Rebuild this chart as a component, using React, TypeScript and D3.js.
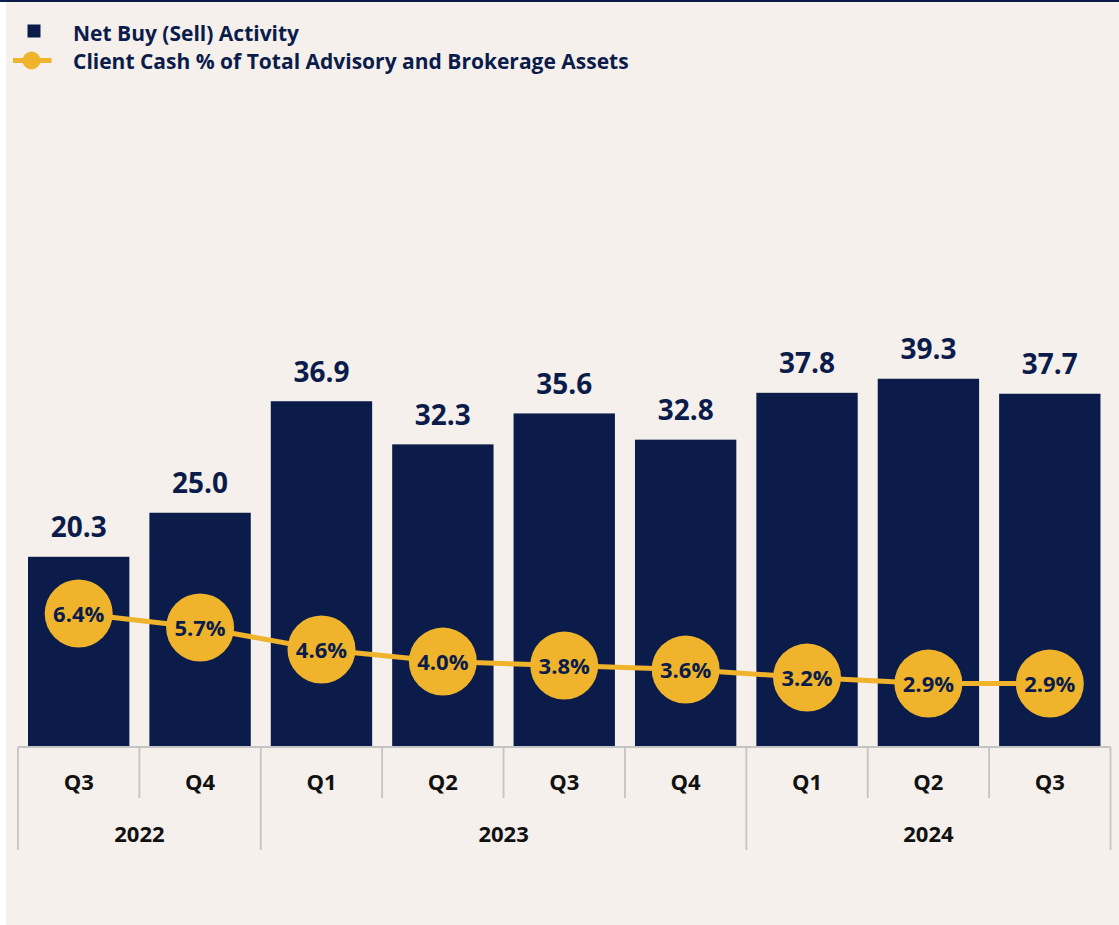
import React from "react";
import * as d3 from "d3";

const quarters = ["Q3", "Q4", "Q1", "Q2", "Q3", "Q4", "Q1", "Q2", "Q3"];
const years = ["2022", "2022", "2023", "2023", "2023", "2023", "2024", "2024", "2024"];
const netBuy = [20.3, 25.0, 36.9, 32.3, 35.6, 32.8, 37.8, 39.3, 37.7];
const cashPct = [6.4, 5.7, 4.6, 4.0, 3.8, 3.6, 3.2, 2.9, 2.9];
const legendLabels = ["Net Buy (Sell) Activity", "Client Cash % of Total Advisory and Brokerage Assets"];

const W = 1119;
const H = 925;
const NAVY = "#0b1c4b";
const GOLD = "#efb42b";
const BG = "#f5f0eb";
const FONT = "'Open Sans', sans-serif";

export default function App() {
  const idx = quarters.map((_, i) => String(i));
  const x = d3.scaleBand<string>().domain(idx).range([18, 1110.5]).paddingInner(0.165).paddingOuter(0.0825);
  const bandStep = x.step();
  const y = d3.scaleLinear().domain([0, 40]).range([747, 372.2]);
  const y2 = d3.scaleLinear().domain([0, 6.4]).range([741.6, 613.5]);

  const cx = (i: number) => (x(String(i)) as number) + x.bandwidth() / 2;
  const line = d3
    .line<number>()
    .x((_, i) => cx(i))
    .y((d) => y2(d));

  const groups: { year: string; start: number; end: number }[] = [];
  years.forEach((yr, i) => {
    const g = groups[groups.length - 1];
    if (g && g.year === yr) g.end = i;
    else groups.push({ year: yr, start: i, end: i });
  });
  const left0 = 18;
  const edge = (i: number) => left0 + i * bandStep;

  return (
    <svg width={W} height={H} style={{ display: "block", position: "absolute", left: 0, top: 0 }}>
      <rect x={0} y={0} width={W} height={H} fill="#ffffff" />
      <rect x={6} y={0} width={W - 6} height={H} fill={BG} />
      <rect x={0} y={0} width={W} height={2} fill={NAVY} />

      {/* legend */}
      <rect x={27.5} y={24.5} width={13} height={13} fill={NAVY} />
      <text x={73} y={41} fontFamily={FONT} fontWeight={700} fontSize={21} fill={NAVY}>
        {legendLabels[0]}
      </text>
      <line x1={13} x2={51.5} y1={60.5} y2={60.5} stroke={GOLD} strokeWidth={5} />
      <circle cx={31.5} cy={60.5} r={9} fill={GOLD} />
      <text x={73} y={69} fontFamily={FONT} fontWeight={700} fontSize={21} fill={NAVY}>
        {legendLabels[1]}
      </text>

      {/* bars */}
      {netBuy.map((v, i) => (
        <g key={"b" + i}>
          <rect x={x(String(i))} y={y(v)} width={x.bandwidth()} height={y(0) - y(v)} fill={NAVY} />
          <text
            x={cx(i)}
            y={y(v) - 19.5}
            textAnchor="middle"
            fontFamily={FONT}
            fontWeight={700}
            fontSize={28}
            fill={NAVY}
          >
            {v.toFixed(1)}
          </text>
        </g>
      ))}

      {/* axis */}
      <line x1={18} x2={1110.5} y1={747} y2={747} stroke="#c4c4c4" strokeWidth={2} />
      {d3.range(0, quarters.length + 1).map((i) => {
        const isYear = groups.some((g) => g.start === i) || i === quarters.length;
        return (
          <line
            key={"t" + i}
            x1={edge(i)}
            x2={edge(i)}
            y1={747}
            y2={isYear ? 850 : 798}
            stroke="#c4c4c4"
            strokeWidth={1.8}
          />
        );
      })}
      {quarters.map((q, i) => (
        <text
          key={"q" + i}
          x={cx(i)}
          y={790}
          textAnchor="middle"
          fontFamily={FONT}
          fontWeight={700}
          fontSize={22}
          fill="#111111"
        >
          {q}
        </text>
      ))}
      {groups.map((g) => (
        <text
          key={"y" + g.year}
          x={(edge(g.start) + edge(g.end + 1)) / 2}
          y={841.5}
          textAnchor="middle"
          fontFamily={FONT}
          fontWeight={700}
          fontSize={22}
          fill="#111111"
        >
          {g.year}
        </text>
      ))}

      {/* line series */}
      <path d={line(cashPct) || ""} fill="none" stroke={GOLD} strokeWidth={5} />
      {cashPct.map((v, i) => (
        <g key={"c" + i}>
          <circle cx={cx(i)} cy={y2(v)} r={34} fill={GOLD} />
          <text
            x={cx(i)}
            y={y2(v) + 8}
            textAnchor="middle"
            fontFamily={FONT}
            fontWeight={700}
            fontSize={22}
            fill={NAVY}
          >
            {v.toFixed(1) + "%"}
          </text>
        </g>
      ))}
    </svg>
  );
}
